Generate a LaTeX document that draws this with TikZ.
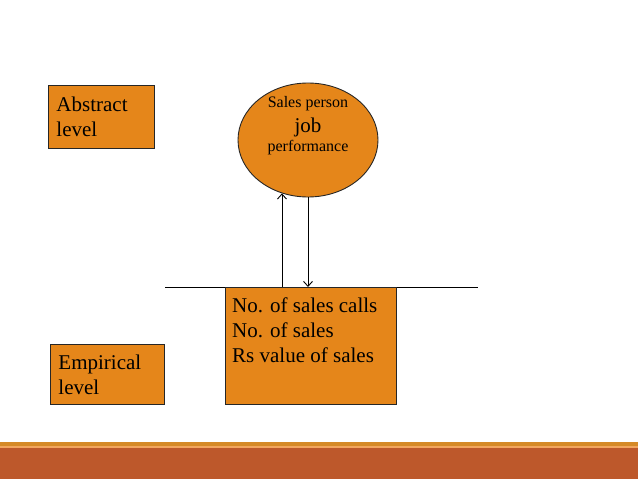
\documentclass[tikz,border=0pt]{standalone}
\usepackage{fontspec}
\setmainfont{Liberation Serif}
\usetikzlibrary{positioning,shapes.geometric,arrows.meta}

\definecolor{boxorange}{HTML}{E5861A}
\definecolor{bandred}{HTML}{BD582B}
\definecolor{bandgold}{HTML}{D58A27}
\definecolor{bandlight}{HTML}{F2A65E}

\tikzset{
  levelbox/.style={draw=black!85, line width=0.9pt, fill=boxorange, rectangle,
    anchor=north west, align=left, inner xsep=8pt, inner ysep=0pt,
    font=\fontsize{21}{25}\selectfont},
  bigtext/.style={font=\fontsize{21}{25}\selectfont, inner sep=0pt},
  smalltext/.style={font=\fontsize{16}{19}\selectfont, inner sep=0pt},
  link/.style={line width=0.9pt, -{Straight Barb[length=5pt,width=9pt]}},
}

\begin{document}
\begin{tikzpicture}[x=1pt, y=-1pt]
  \useasboundingbox (0,0) rectangle (638,479);

  % Levels
  \node[levelbox, minimum width=106pt, minimum height=63pt, text width=90pt]
    (abstract) at (48,85) {Abstract\\level};
  \node[levelbox, minimum width=114pt, minimum height=60pt, text width=98pt]
    (empirical) at (50,344) {Empirical\\level};

  % Construct
  \node[draw=black!85, line width=0.9pt, fill=boxorange, ellipse,
    minimum width=140pt, minimum height=114pt] (perf) at (308,140) {};
  \node[smalltext, anchor=base] (sales) at (308,107) {Sales person};
  \node[bigtext, anchor=base] (job) at (308,132) {job};
  \node[smalltext, anchor=base] (perfword) at (308,151) {performance};

  % Measures
  \coordinate (lineL) at (165,287);
  \coordinate (lineR) at (478,287);
  \draw[line width=0.9pt] (lineL) -- (lineR);
  \node[levelbox, minimum width=171pt, minimum height=117pt] (measures) at (225,287) {};
  \node[bigtext, anchor=base west] (calls) at (232,312) {No. of sales calls};
  \node[bigtext, anchor=base west] (count) at (232,337) {No. of sales};
  \node[bigtext, anchor=base west] (value) at (232,362) {Rs value of sales};

  % Arrows
  \draw[link] (perf.-116 |- lineL) -- (perf.-116);
  \draw[link] (perf.south) -- (perf.south |- lineL);

  % Footer
  \fill[bandgold] (0,442) rectangle (638,446);
  \fill[bandlight] (0,446) rectangle (638,447.5);
  \fill[bandred] (0,447.5) rectangle (638,479);
\end{tikzpicture}
\end{document}
